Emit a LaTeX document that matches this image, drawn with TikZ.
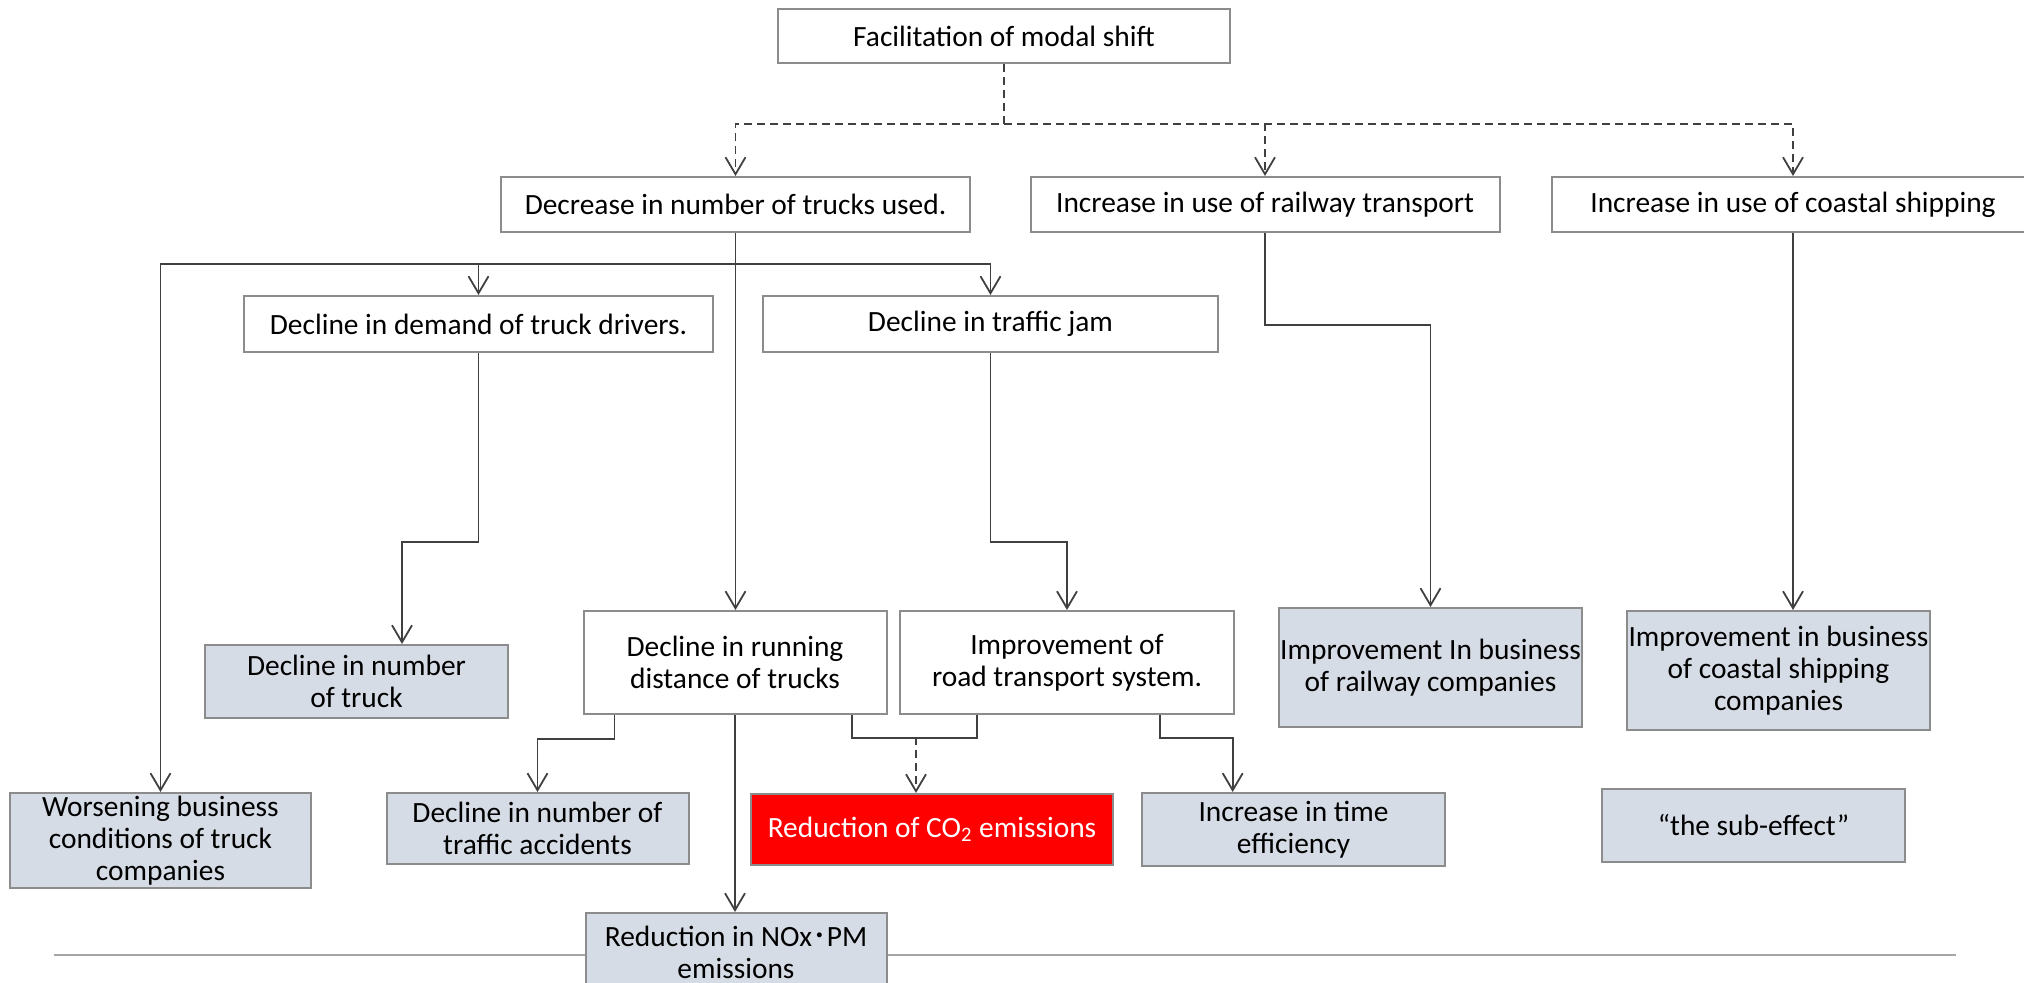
\documentclass[tikz,border=0pt]{standalone}
\usepackage{fontspec}
\setmainfont{Carlito}
\newfontfamily\cjk{Noto Sans CJK JP}
\usetikzlibrary{arrows.meta}
\definecolor{boxfill}{HTML}{D6DCE5}
\definecolor{boxline}{HTML}{8C8C8C}
\definecolor{linkcol}{HTML}{404040}
\definecolor{rulegray}{HTML}{A6A6A6}
\definecolor{co2red}{HTML}{FF0000}
\begin{document}
\begin{tikzpicture}[x=0.5pt, y=-0.5pt, line join=miter, font=\fontsize{14.7}{16}\selectfont, >={Straight Barb[length=8.5pt,width=10pt]}]
			\tikzset{plain box/.style 2 args={draw=boxline, line width=1pt, fill=white, align=center, inner sep=0pt, minimum width=#1*0.5pt, minimum height=#2*0.5pt},
				effect box/.style 2 args={plain box={#1}{#2}, fill=boxfill},
				link/.style={draw=linkcol, line width=0.9pt},
				dashed link/.style={link, dash pattern=on 4pt off 2.5pt}}
			\clip (0,0) rectangle (2024,983);
			\draw[rulegray, line width=1pt] (54,955) -- (1956,955);
			% causes
			\node[plain box={452}{54}] (shift) at (1004,36) {Facilitation of modal shift};
			\node[plain box={469}{55}] (trucks) at (735.5,204.5) {Decrease in number of trucks used.};
			\node[plain box={469}{55}] (rail) at (1265,204.5) {Increase in use of railway transport};
			\node[plain box={483}{55}] (coast) at (1793,204.5) {Increase in use of coastal shipping};
			\node[plain box={469}{56}] (demand) at (478.5,324) {Decline in demand of truck drivers.};
			\node[plain box={455}{56}] (jam) at (990.5,324) {Decline in traffic jam};
			\node[plain box={303}{103}] (running) at (735,662.5) {Decline in running\\distance of trucks};
			\node[plain box={334}{103}] (road) at (1067,662.5) {Improvement of\\road transport system.};
			% effects
			\node[effect box={303}{73}] (fewtrucks) at (356.5,681.5) {Decline in number\\of truck};
			\node[effect box={303}{119}] (railbiz) at (1430.5,667.5) {Improvement In business\\of railway companies};
			\node[effect box={303}{119}] (coastbiz) at (1778.5,670.5) {Improvement in business\\of coastal shipping\\companies};
			\node[effect box={301}{95}] (worsen) at (160.5,840.5) {Worsening business\\conditions of truck\\companies};
			\node[effect box={302}{71}] (accidents) at (537.5,828.5) {Decline in number of\\traffic accidents};
			\node[effect box={362}{71}, fill=co2red, text=white] (co2) at (932,829.5) {Reduction of CO\textsubscript{2} emissions};
			\node[effect box={303}{73}] (time) at (1293.5,829.5) {Increase in time\\efficiency};
			\node[effect box={303}{73}] (subeffect) at (1753.5,825.5) {“the sub-effect”};
			\node[effect box={301}{78}] (nox) at (736,952) {Reduction in NOx{\cjk ･}PM\\emissions};
			% links
			\coordinate (split) at (1004,124);
			\coordinate (fork) at (735.5,264);
			\coordinate (co2in) at (916,737);
			\draw[dashed link,->] (shift.south) -- (split) -| (trucks.north);
			\draw[dashed link,->] (split) -| (rail.north);
			\draw[dashed link,->] (split) -| (coast.north);
			\draw[link,->] (trucks.south) -- (trucks.south |- running.north);
			\draw[link,->] (fork) -| (worsen.north);
			\draw[link,->] (fork) -| (demand.north);
			\draw[link,->] (fork) -| (jam.north);
			\draw[link,->] (demand.south) -- ++(0,189) -| ([xshift=22.75pt]fewtrucks.north);
			\draw[link,->] (jam.south) -- ++(0,189) -| (road.north);
			\draw[link,->] (rail.south) -- ++(0,92) -| (railbiz.north);
			\draw[link,->] (coast.south) -- (coast.south |- coastbiz.north);
			\draw[link,->] ([xshift=16pt]running.south west) -- ++(0,24) -| (accidents.north);
			\draw[link,->] (running.south) -- (running.south |- nox.north);
			\draw[link] ([xshift=-17.75pt]running.south east) -- ++(0,23) -| ([xshift=39pt]road.south west);
			\draw[dashed link,->] (co2in) -- (co2in |- co2.north);
			\draw[link,->] ([xshift=-37.5pt]road.south east) -- ++(0,23) -| ([xshift=-30.4pt]time.north);
		\end{tikzpicture}
\end{document}
